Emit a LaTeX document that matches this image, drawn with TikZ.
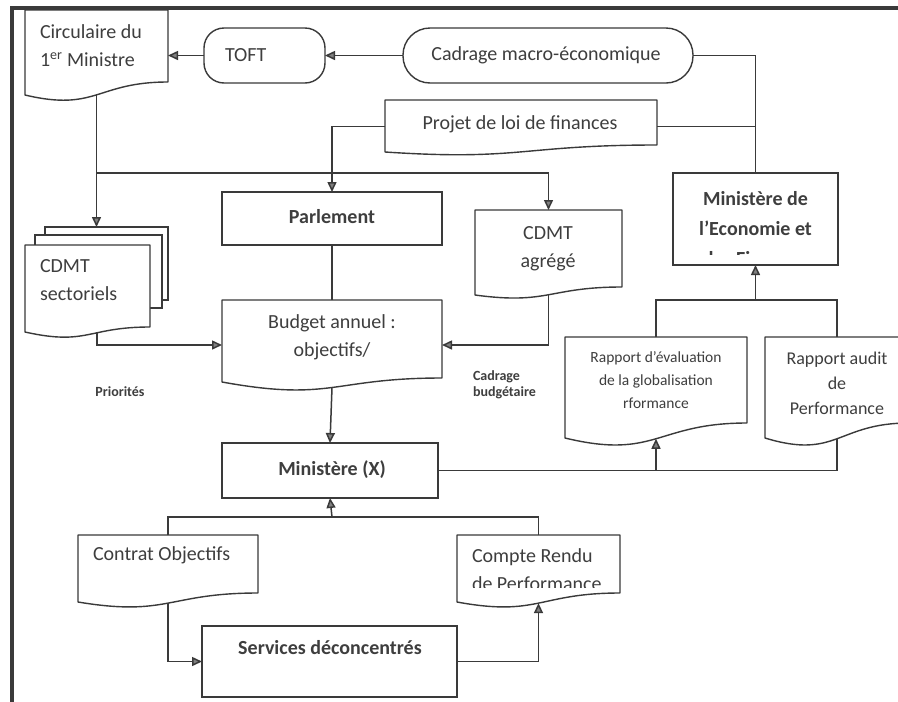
\documentclass[tikz,border=0pt]{standalone}
\usepackage{fontspec}
\setmainfont{Carlito}
\usetikzlibrary{arrows.meta,calc}
\definecolor{ink}{HTML}{3A3A3A}
\definecolor{txt}{HTML}{3E3E3E}
\tikzset{
 shapebox/.style={rectangle, inner sep=0pt, outer sep=0pt, draw=none},
 thickbox/.style={rectangle, inner sep=0pt, outer sep=0pt, draw=ink, line width=2.8pt, fill=white},
 termbox/.style={rectangle, inner sep=0pt, outer sep=0pt, draw=ink, line width=1.4pt, fill=white},
 pagebox/.style={rectangle, inner sep=0pt, outer sep=0pt, draw=ink, line width=1.4pt, fill=white},
 docline/.style={draw=ink, line width=1.4pt, fill=white, line join=round},
 conn/.style={draw=ink, line width=1.5pt},
 arr/.style={conn, -{Triangle[width=9pt,length=10pt,fill=gray]}},
 lbl/.style={text=txt, inner sep=0pt, outer sep=0pt, font=\fontsize{20}{28}\selectfont},
 blbl/.style={lbl, font=\fontsize{20}{28}\selectfont\bfseries},
}
\newcommand{\mkbox}[6][shapebox]{\node[#1, minimum width={#5-(#3)}, minimum height={#6-(#4)}] (#2) at ({(#3+#5)/2},{(#4+#6)/2}) {};}
\newcommand{\docdraw}[4]{\draw[docline] (#1.south east) .. controls (#1.south) and ([yshift=-#3pt]#1.south) .. coordinate[pos=#4] (#1-b) ([yshift=-#2pt]#1.south west) -- (#1.north west) -- (#1.north east) -- cycle;}
\begin{document}
\begin{tikzpicture}[x=1pt,y=-1pt]
\clip (0,0) rectangle (898,702);
\fill[white] (0,0) rectangle (898,702);
\draw[ink, line width=3.5pt] (12,702) -- (12,8) -- (898,8);

% ---------- shapes ----------
\mkbox{circ}{25}{10}{168}{82}\docdraw{circ}{13}{30}{0.5}
\mkbox[termbox, rounded corners=20pt]{toft}{204}{28}{325}{83}
\mkbox[termbox, rounded corners=27pt]{cadrage}{403}{28}{693}{83}
\mkbox{projet}{385}{100}{657}{145}\docdraw{projet}{7}{16}{0.5}
\mkbox[thickbox]{parlement}{222}{192}{442}{245}
\mkbox[pagebox]{cdmts3}{45}{227}{168}{300}
\mkbox[pagebox]{cdmts2}{35}{235}{162}{308}
\mkbox{cdmts}{25}{245}{150}{327}\docdraw{cdmts}{5}{19}{0.4}
\mkbox{cdmta}{475}{210}{622}{287}\docdraw{cdmta}{8}{18}{0.5}
\mkbox{budget}{222}{300}{442}{378}\docdraw{budget}{4}{24}{0.5}
\mkbox[thickbox]{mineco}{673}{173}{838}{265}
\mkbox{eval}{565}{337}{747}{423}\docdraw{eval}{15}{37}{0.5}
\mkbox{audit}{765}{337}{909}{423}\docdraw{audit}{15}{37}{0.5}
\mkbox[thickbox]{minx}{222}{443}{438}{498}
\mkbox{contrat}{78}{535}{258}{593}\docdraw{contrat}{9}{24}{0.5}
\mkbox{compte}{457}{535}{620}{593}\docdraw{compte}{9}{24}{0.5}
\mkbox[thickbox]{services}{202}{626}{457}{697}

% ---------- texts ----------
\node[lbl, anchor=west, align=left] (circT) at (40,46) {Circulaire du\\1\textsuperscript{er} Ministre};
\node[lbl, anchor=west] (toftT) at (225,55.5) {TOFT};
\node[lbl] (cadrageT) at (546,55) {Cadrage macro-économique};
\node[lbl] (projetT) at (520,124) {Projet de loi de finances};
\node[blbl] (parlementT) at (332,217) {Parlement};
\node[lbl, anchor=west, align=left] (cdmtsT) at (40,280) {CDMT\\sectoriels};
\node[lbl, align=center] (cdmtaT) at (548,249) {CDMT\\agrégé};
\node[lbl, align=center] (budgetT) at (332,337) {Budget annuel :\\objectifs/};
\begin{scope}
\clip (675,176) rectangle (836,254.5);
\node[blbl, align=center, font=\fontsize{20}{30}\selectfont\bfseries] (minecoT) at (755.5,229) {Ministère de\\l’Economie et\\des Finances};
\end{scope}
\node[lbl, align=center, font=\fontsize{15.5}{23}\selectfont] (evalT) at (656,380) {Rapport d’évaluation\\de la globalisation\\rformance};
\node[lbl, align=center, font=\fontsize{18}{25}\selectfont] (auditT) at (837,383) {Rapport audit\\de\\Performance};
\node[blbl] (minxT) at (332,470) {Ministère (X)};
\node[lbl, anchor=west] (contratT) at (93,555) {Contrat Objectifs};
\begin{scope}
\clip (459,537) rectangle (618,587);
\node[lbl, anchor=west, align=left] (compteT) at (472,570) {Compte Rendu\\de Performance};
\end{scope}
\node[blbl] (servicesT) at (330,648) {Services déconcentrés};
\node[lbl, font=\fontsize{14}{16}\selectfont\bfseries] (prioT) at (120,392) {Priorités};
\node[lbl, anchor=west, align=left, font=\fontsize{14}{16}\selectfont\bfseries] (cbT) at (473,385) {Cadrage\\budgétaire};

% ---------- connectors ----------
\coordinate (split) at (96.5,173);
\coordinate (j2) at (755.5,300);
\coordinate (j3) at (332,517);
\draw[arr] (cadrage.west) -- (toft.east);
\draw[arr] (toft.west) -- (toft.west -| circ.east);
\draw[conn] (cadrage.east) -| (mineco.north);
\draw[conn] ([yshift=-4pt]projet.east) -- ([yshift=-4pt]projet.east -| mineco.north);
\draw[arr] ([yshift=-4pt]projet.west) -| (parlement.north);
\draw[arr] (circ-b) -- (circ-b |- cdmts3.north);
\draw[arr] (split) -| (cdmta.north);
\draw[conn] (parlement.south) -- (budget.north);
\draw[arr] (cdmts-b) |- ([yshift=-6pt]budget.west);
\draw[arr] (cdmta-b) |- ([yshift=-6pt]budget.east);
\draw[arr] (budget-b) -- (minx.north);
\draw[conn] (minx.east) -| (audit-b);
\draw[arr] (minx.east -| eval-b) -- (eval-b);
\draw[conn] (eval.north) |- (j2) -| (audit.north);
\draw[arr] (j2) -- (mineco.south);
\draw[conn] (contrat.north) |- (j3) -| (compte.north);
\draw[arr] (j3) -- (minx.south);
\draw[arr] (contrat-b) |- (services.west);
\draw[arr] (services.east) -| (compte-b);
\end{tikzpicture}
\end{document}
